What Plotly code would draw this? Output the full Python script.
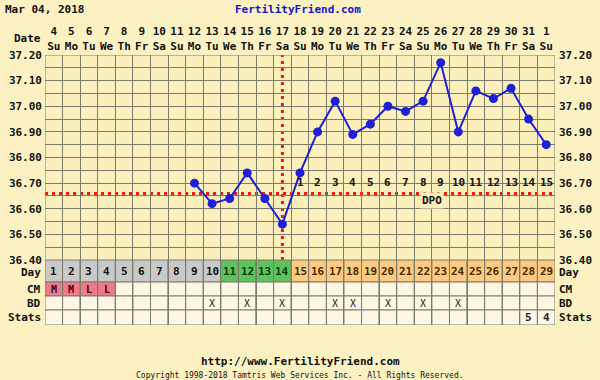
import plotly.graph_objects as go

# ---------------- data ----------------
dates = ["4", "5", "6", "7", "8", "9", "10", "11", "12", "13", "14", "15", "16", "17", "18",
         "19", "20", "21", "22", "23", "24", "25", "26", "27", "28", "29", "30", "31", "1"]
weekdays = ["Su", "Mo", "Tu", "We", "Th", "Fr", "Sa"] * 4 + ["Su"]
cycle_days = list(range(1, 30))
temps = [None, None, None, None, None, None, None, None,
         36.70, 36.62, 36.64, 36.74, 36.64, 36.54, 36.74, 36.90, 37.02, 36.89, 36.93,
         37.00, 36.98, 37.02, 37.17, 36.90, 37.06, 37.03, 37.07, 36.95, 36.85]
coverline = 36.66
ovulation_day = 14
fertile_days = [11, 12, 13, 14]
dpo = list(range(1, 16))
cm = ["M", "M", "L", "L"] + [""] * 25
bd_days = [10, 12, 14, 17, 18, 20, 22, 24]
stats = {28: "5", 29: "4"}
y_ticks = [36.40, 36.50, 36.60, 36.70, 36.80, 36.90, 37.00, 37.10, 37.20]

# ---------------- style ----------------
PAPER = "#FCF1C2"
PLOT = "#FBEFBB"
GRID = "#7D7C6C"
CELL = "#FFF6E3"
GRAY = "#C9C9C9"
GREEN = "#5EC25E"
ORANGE = "#FCCA80"
PINK = "#F07A8C"
BLUE = "#1F1FD6"
RED = "#EE1A0E"
FONT = "DejaVu Sans Mono"

H, W = 380, 600
top, bot, left, right = 55, 55, 45, 45
plot_h = H - top - bot
plot_w = W - left - right
table_h = 65
split = table_h / plot_h


def px_x(px):
    return (px - left) / plot_w


def px_y(py):
    return (H - bot - py) / plot_h


n = len(dates)
xs = list(range(n))

fig = go.Figure()

fig.add_trace(go.Scatter(
    x=xs, y=temps, mode="lines+markers",
    line=dict(color=BLUE, width=2),
    marker=dict(color=BLUE, size=9),
    connectgaps=False, hoverinfo="skip", showlegend=False))

fig.add_trace(go.Scatter(x=[0], y=[36.4], xaxis="x2", yaxis="y", mode="markers",
                         marker=dict(opacity=0), showlegend=False, hoverinfo="skip"))
fig.add_trace(go.Scatter(x=[0], y=[36.4], xaxis="x", yaxis="y3", mode="markers",
                         marker=dict(opacity=0), showlegend=False, hoverinfo="skip"))

shapes = []
shapes.append(dict(type="line", xref="x", yref="y", x0=-0.5, x1=n - 0.5,
                   y0=coverline, y1=coverline, line=dict(color=RED, width=3, dash="3px,4px"),
                   layer="below"))
ov_x = cycle_days.index(ovulation_day)
shapes.append(dict(type="line", xref="x", yref="y", x0=ov_x, x1=ov_x,
                   y0=y_ticks[0], y1=y_ticks[-1], line=dict(color=RED, width=3, dash="3px,4px"),
                   layer="below"))

rows = [("Day", 0, 22), ("CM", 22, 36), ("BD", 36, 50), ("Stats", 50, 65)]
annotations = []
for i, d in enumerate(cycle_days):
    if d in fertile_days:
        dcol, tcol = GREEN, "#0B3A0B"
    elif d < fertile_days[0]:
        dcol, tcol = GRAY, "#111111"
    else:
        dcol, tcol = ORANGE, "#4A2A00"
    for name, y0, y1 in rows:
        if name == "Day":
            fill = dcol
        elif name == "CM" and cm[i]:
            fill = PINK
        else:
            fill = CELL
        shapes.append(dict(type="rect", xref="x", yref="y2", x0=i - 0.5, x1=i + 0.5,
                           y0=y0, y1=y1, fillcolor=fill, line=dict(color=GRID, width=1),
                           layer="below"))
    annotations.append(dict(x=i, y=11, xref="x", yref="y2", text=str(d), showarrow=False,
                            font=dict(family=FONT, size=11, color=tcol, weight="bold")))
    if cm[i]:
        annotations.append(dict(x=i, y=29, xref="x", yref="y2", text=cm[i], showarrow=False,
                                font=dict(family=FONT, size=10, color="#3A0010", weight="bold")))
    if d in bd_days:
        annotations.append(dict(x=i, y=43, xref="x", yref="y2", text="X", showarrow=False,
                                font=dict(family=FONT, size=10, color="#222222")))
    if d in stats:
        annotations.append(dict(x=i, y=57.5, xref="x", yref="y2", text=stats[d], showarrow=False,
                                font=dict(family=FONT, size=11, color="#222222", weight="bold")))

for name, y0, y1 in rows:
    yc = (y0 + y1) / 2 + (1 if name == "Day" else 0)
    annotations.append(dict(x=0, y=yc, xref="paper", yref="y2", text=name, showarrow=False,
                            xanchor="right", xshift=-2,
                            font=dict(family=FONT, size=11, color="#111111", weight="bold")))
    annotations.append(dict(x=1, y=yc, xref="paper", yref="y2", text=name, showarrow=False,
                            xanchor="left", xshift=2,
                            font=dict(family=FONT, size=11, color="#111111", weight="bold")))

for k, dn in enumerate(dpo):
    annotations.append(dict(x=ov_x + 1 + k, y=36.70, xref="x", yref="y", text=str(dn),
                            showarrow=False, yshift=1,
                            font=dict(family=FONT, size=11, color="#111111", weight="bold")))
annotations.append(dict(x=ov_x + 8.5, y=36.633, xref="x", yref="y", text="DPO",
                        showarrow=False, bgcolor=PLOT, borderpad=1,
                        font=dict(family=FONT, size=11, color="#111111", weight="bold")))

annotations += [
    dict(x=px_x(3), y=px_y(10), xref="paper", yref="paper", text="Mar 04, 2018", showarrow=False,
         xanchor="left", yanchor="middle",
         font=dict(family=FONT, size=11, color="#111111", weight="bold")),
    dict(x=px_x(298), y=px_y(10), xref="paper", yref="paper", text="FertilityFriend.com",
         showarrow=False, xanchor="center", yanchor="middle",
         font=dict(family=FONT, size=11, color="#1515C8", weight="bold")),
    dict(x=px_x(43), y=px_y(38), xref="paper", yref="paper", text="Date", showarrow=False,
         xanchor="right", yanchor="middle",
         font=dict(family=FONT, size=11, color="#111111", weight="bold")),
    dict(x=px_x(300), y=px_y(361), xref="paper", yref="paper",
         text="http://www.FertilityFriend.com",
         showarrow=False, xanchor="center", yanchor="middle",
         font=dict(family=FONT, size=11, color="#111111", weight="bold")),
    dict(x=px_x(300), y=px_y(375), xref="paper", yref="paper",
         text="Copyright 1998-2018 Tamtris Web Services Inc. - All Rights Reserved.",
         showarrow=False, xanchor="center", yanchor="middle",
         font=dict(family=FONT, size=8, color="#111111")),
]

tick_font = dict(family=FONT, size=11, color="#111111", weight="bold")
ytext = ["%.2f" % v for v in y_ticks]

fig.update_layout(
    width=W, height=H, autosize=False,
    margin=dict(l=left, r=right, t=top, b=bot, pad=0, autoexpand=False),
    paper_bgcolor=PAPER, plot_bgcolor=PLOT,
    showlegend=False,
    xaxis=dict(domain=[0, 1], range=[-0.5, n - 0.5], anchor="y", automargin=False,
               tickvals=[i - 0.5 for i in range(n + 1)], showticklabels=False, ticks="",
               showgrid=True, gridcolor=GRID, gridwidth=1, zeroline=False, showline=False),
    xaxis2=dict(overlaying="x", side="top", anchor="y", range=[-0.5, n - 0.5], automargin=False,
                tickvals=xs, ticktext=[f"{d}<br>{w}" for d, w in zip(dates, weekdays)],
                tickfont=tick_font, ticks="", ticklabelstandoff=2,
                showgrid=False, zeroline=False, showline=False),
    yaxis=dict(domain=[split, 1], range=[y_ticks[0], y_ticks[-1]], automargin=False,
               tickvals=y_ticks, ticktext=ytext, tickfont=tick_font, ticks="",
               ticklabelstandoff=2,
               showgrid=True, gridcolor=GRID, gridwidth=1, zeroline=False, showline=False,
               minor=dict(dtick=0.05, tick0=36.40, showgrid=True, gridcolor=GRID, gridwidth=1)),
    yaxis3=dict(overlaying="y", side="right", anchor="x", range=[y_ticks[0], y_ticks[-1]],
                automargin=False, ticklabelstandoff=3,
                tickvals=y_ticks, ticktext=ytext, tickfont=tick_font, ticks="",
                showgrid=False, zeroline=False, showline=False),
    yaxis2=dict(domain=[0, split], range=[table_h, 0], visible=False, automargin=False),
    shapes=shapes, annotations=annotations,
)
fig.add_shape(type="rect", xref="x", yref="y", x0=-0.5, x1=n - 0.5, y0=y_ticks[0], y1=y_ticks[-1],
              line=dict(color=GRID, width=1), layer="below")

fig.write_html("out.html", config={"displayModeBar": False},
               post_script="document.body.style.margin='0';")
